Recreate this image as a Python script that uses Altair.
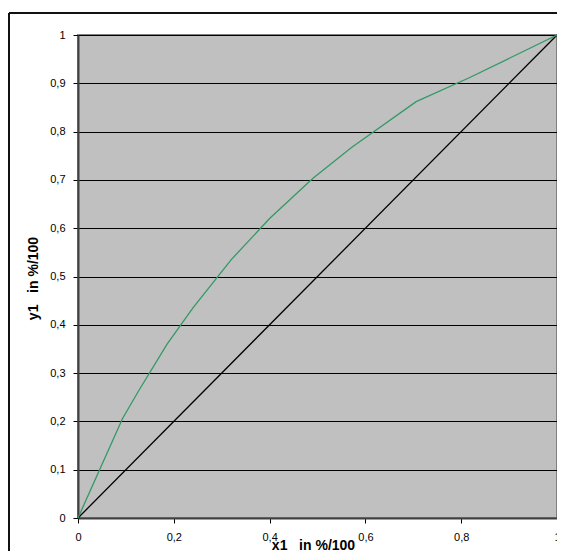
import altair as alt
import pandas as pd

# Green equilibrium curve (x1, y1)
x1 = [0, 0.093, 0.127, 0.186, 0.24, 0.32, 0.40, 0.49, 0.571, 0.706, 0.818, 1.0]
y1 = [0, 0.206, 0.264, 0.36, 0.435, 0.535, 0.62, 0.703, 0.767, 0.862, 0.912, 1.0]
# Diagonal
diag_x = [0, 1]
diag_y = [0, 1]

x_ticks = [0, 0.2, 0.4, 0.6, 0.8, 1.0]
y_ticks = [0, 0.1, 0.2, 0.3, 0.4, 0.5, 0.6, 0.7, 0.8, 0.9, 1.0]

curve = pd.DataFrame({"x": x1, "y": y1})
diag = pd.DataFrame({"x": diag_x, "y": diag_y})

FONT = "Liberation Sans"
label_expr = "replace(format(datum.value, '~g'), '.', ',')"
NB = "\u00a0"

xscale = alt.Scale(domain=[0, 1], nice=False)
yscale = alt.Scale(domain=[0, 1], nice=False)

xaxis = alt.Axis(
    values=x_ticks, labelExpr=label_expr, grid=False,
    title=f"x1{NB}{NB}{NB}in %/100", titleFont=FONT, titleFontSize=14, titleFontWeight="bold",
    titleX=235, titleY=31, titleBaseline="alphabetic", titleAlign="center",
    labelFont=FONT, labelFontSize=11, labelColor="black", labelPadding=8,
    tickColor="black", tickSize=5, domainColor="#404040", domainWidth=2,
    labelFlush=False, labelOverlap=False,
)
yaxis = alt.Axis(
    values=y_ticks, labelExpr=label_expr, grid=True, gridColor="black", gridWidth=1,
    gridOpacity=1,
    title=f"y1{NB}{NB}{NB}in %/100", titleFont=FONT, titleFontSize=14, titleFontWeight="bold",
    titleX=-41, titleY=243, titleBaseline="alphabetic", titleAlign="center", titleAngle=270,
    labelFont=FONT, labelFontSize=11, labelColor="black", labelPadding=8,
    tickColor="black", tickSize=5, domainColor="#404040", domainWidth=2,
    labelFlush=False, labelOverlap=False,
)

diag_line = alt.Chart(diag).mark_line(color="black", strokeWidth=1.3).encode(
    x=alt.X("x:Q", scale=xscale, axis=xaxis),
    y=alt.Y("y:Q", scale=yscale, axis=yaxis),
)
curve_line = alt.Chart(curve).mark_line(color="#339966", strokeWidth=1.3).encode(
    x=alt.X("x:Q", scale=xscale),
    y=alt.Y("y:Q", scale=yscale),
)

frame_left = alt.Chart(diag).mark_rule(color="#111111", strokeWidth=2).encode(
    x=alt.value(-69), y=alt.value(-22), y2=alt.value(700)
)
frame_top = alt.Chart(diag).mark_rule(color="#111111", strokeWidth=2).encode(
    x=alt.value(-69), x2=alt.value(700), y=alt.value(-22)
)

chart = alt.layer(diag_line, curve_line, frame_left, frame_top).properties(
    width=479, height=483,
    autosize=alt.AutoSizeParams(type="none"),
    padding={"left": 70, "top": 27, "right": 0, "bottom": 33},
    background="white",
).configure_view(
    fill="#C0C0C0", stroke="#808080", strokeWidth=2
)

chart.save("out.html", embed_options={"renderer": "svg", "actions": False})
